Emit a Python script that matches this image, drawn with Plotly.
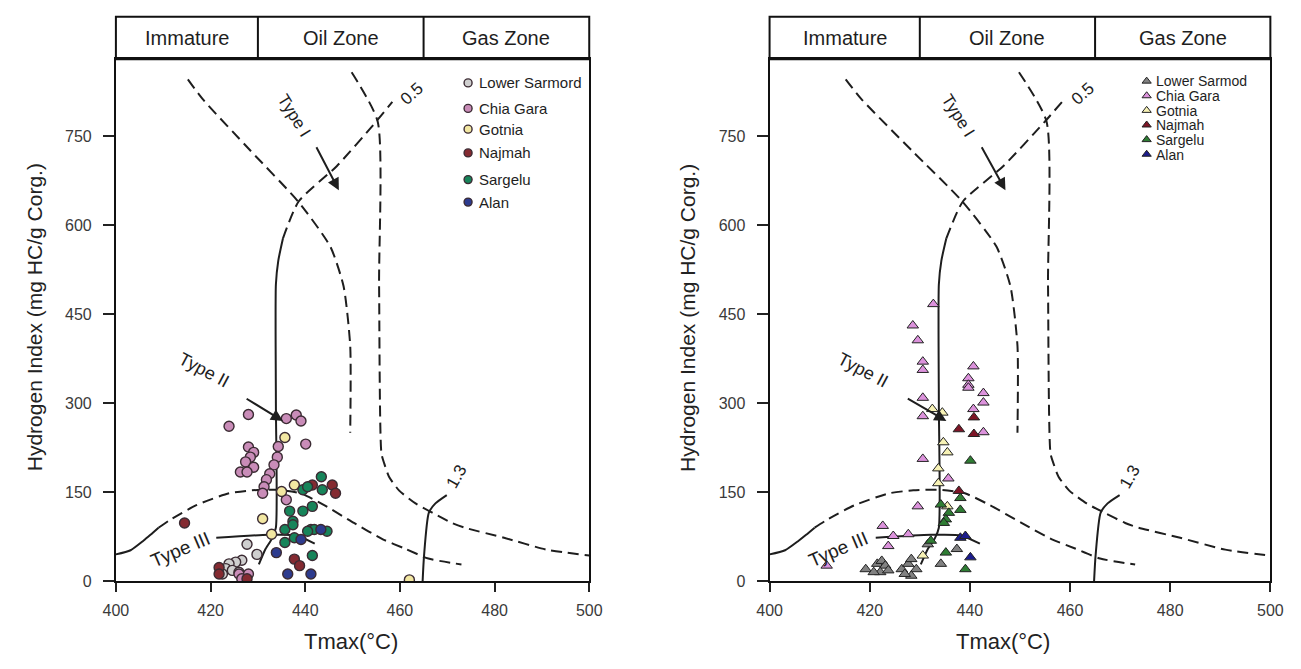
import plotly.graph_objects as go

# ---------------- data: left panel (circles) ----------------
L_lower_sarmord_x = [427.7, 429.8, 426.6, 425.3, 423.9, 423.2, 424.6, 426.0, 422.5]
L_lower_sarmord_y = [62, 45, 35, 32, 29, 21, 18, 15, 12]
L_chia_gara_x = [428.0, 423.9, 436.0, 438.1, 439.1, 440.1, 434.3, 434.1, 433.4, 432.5, 431.8,
                 431.3, 431.0, 428.0, 429.1, 428.4, 427.4, 429.1, 426.3, 427.7, 436.0, 426.0, 428.0, 426.6]
L_chia_gara_y = [281, 261, 274, 280, 270, 231, 227, 209, 196, 181, 171,
                 159, 148, 226, 217, 209, 201, 192, 184, 184, 137, 12, 12, 4]
L_gotnia_x = [435.7, 435.0, 437.7, 431.0, 432.9, 462.0]
L_gotnia_y = [242, 151, 162, 105, 79, 2]
L_najmah_x = [414.5, 441.5, 445.7, 446.4, 437.7, 438.8, 421.8, 421.8, 427.7]
L_najmah_y = [98, 162, 162, 148, 37, 26, 23, 12, 4]
L_sargelu_x = [443.4, 443.6, 439.5, 440.5, 436.7, 439.5, 441.5, 437.4, 435.7, 437.7, 435.7,
               441.2, 441.9, 444.6, 441.5, 437.4, 440.5]
L_sargelu_y = [176, 154, 154, 159, 118, 118, 126, 101, 87, 73, 65,
               87, 87, 84, 43, 95, 84]
L_alan_x = [443.3, 439.1, 433.9, 436.3, 441.2]
L_alan_y = [87, 70, 48, 12, 12]

# ---------------- data: right panel (triangles) ----------------
R_lower_sarmod_x = [437.4, 434.2, 431.6, 419.2, 421.5, 422.4, 423.1, 422.1, 423.7, 420.8,
                    426.4, 427.7, 428.3, 429.3, 428.3, 427.0]
R_lower_sarmod_y = [54, 29, 62, 20, 29, 34, 26, 15, 18, 15,
                    20, 29, 37, 20, 9, 12]
R_chia_gara_x = [432.7, 428.6, 429.6, 430.6, 430.6, 430.6, 430.6, 440.7, 439.7, 439.7, 439.7,
                 442.7, 442.7, 440.7, 442.7, 430.6, 435.7, 429.6, 422.6, 424.7, 427.7, 423.7, 411.4]
R_chia_gara_y = [467, 431, 406, 370, 356, 309, 278, 362, 342, 331, 326,
                 317, 301, 290, 251, 206, 173, 126, 93, 76, 79, 59, 26]
R_gotnia_x = [432.5, 434.5, 434.7, 435.5, 433.7, 433.7, 435.5, 430.6]
R_gotnia_y = [290, 284, 234, 217, 190, 165, 126, 43]
R_najmah_x = [440.8, 437.8, 440.8, 437.8]
R_najmah_y = [276, 256, 248, 152]
R_sargelu_x = [440.1, 438.1, 438.1, 434.2, 435.8, 435.2, 434.8, 432.2, 435.2, 439.1]
R_sargelu_y = [203, 140, 120, 129, 115, 104, 98, 68, 48, 20]
R_alan_x = [438.1, 439.1, 440.1]
R_alan_y = [73, 76, 40]

# ---------------- reference curves (Tmax, HI) ----------------
ro05_solid_x = [430.2, 431.6, 433.0, 433.8, 433.8, 433.8, 434.3, 435.3]
ro05_solid_y = [28, 54, 72, 90, 300, 500, 540, 578]
ro05_dash_x = [435.3, 438.6, 446.7, 455.0, 458.4]
ro05_dash_y = [578, 640, 700, 775, 808]
type2_x = [415.2, 418.3, 428.4, 438.5, 445.3, 448.1, 449.5, 449.5]
type2_y = [846, 813, 726, 640, 564, 497, 397, 250]
type1_x = [449.8, 455.3, 455.6, 456.1, 456.7, 457.7, 459.8, 463.3, 466.9, 471.0, 473.7, 482.0, 491.0, 500.0]
type1_y = [858, 775, 500, 215, 198, 176, 153, 131, 115, 98, 90, 73, 53, 43]
env_solid_x = [400.0, 403.1, 405.8, 407.3, 409.0]
env_solid_y = [45, 52, 68, 78, 90]
env_dash_x = [409.0, 411.4, 417.0, 423.9, 428.7, 434.0, 439.0, 444.0, 450.3, 456.5, 461.0, 466.0, 473.0]
env_dash_y = [90, 103, 128, 148, 153, 154, 148, 128, 98, 70, 55, 38, 28]
type3_x = [421.2, 432.2, 438.2, 442.0]
type3_y = [73, 78, 77, 63]
ro13_x = [464.8, 465.1, 466.1, 467.5, 469.9]
ro13_y = [0, 43, 115, 131, 145]

zone_names = ["Immature", "Oil Zone", "Gas Zone"]
zone_bounds = [400, 430, 465, 500]
x_ticks = [400, 420, 440, 460, 480, 500]
y_ticks = [0, 150, 300, 450, 600, 750]

FONT = "Liberation Sans, Arial, sans-serif"
INK = "#1e1e1e"

left_series = [
    ("Lower Sarmord", L_lower_sarmord_x, L_lower_sarmord_y, "#cfcfcf"),
    ("Chia Gara", L_chia_gara_x, L_chia_gara_y, "#c98cb8"),
    ("Gotnia", L_gotnia_x, L_gotnia_y, "#f2e7a2"),
    ("Najmah", L_najmah_x, L_najmah_y, "#842a31"),
    ("Sargelu", L_sargelu_x, L_sargelu_y, "#17845a"),
    ("Alan", L_alan_x, L_alan_y, "#2d3b8e"),
]
right_series = [
    ("Lower Sarmod", R_lower_sarmod_x, R_lower_sarmod_y, "#818181"),
    ("Chia Gara", R_chia_gara_x, R_chia_gara_y, "#dc92dc"),
    ("Gotnia", R_gotnia_x, R_gotnia_y, "#f7f2b5"),
    ("Najmah", R_najmah_x, R_najmah_y, "#7d1526"),
    ("Sargelu", R_sargelu_x, R_sargelu_y, "#2f7d34"),
    ("Alan", R_alan_x, R_alan_y, "#1b1b8c"),
]
left_legend_y = [840, 797, 762, 722, 677, 639]

PX_PER_HI = 529 / 880.0  # plot height in px / y-range

fig = go.Figure()

def add_curves(xa, ya):
    dash = "11px,6px"
    for xs, ys, d in [
        (ro05_solid_x, ro05_solid_y, "solid"),
        (ro05_dash_x, ro05_dash_y, dash),
        (type2_x, type2_y, dash),
        (type1_x, type1_y, dash),
        (env_solid_x, env_solid_y, "solid"),
        (env_dash_x, env_dash_y, dash),
        (type3_x, type3_y, "solid"),
        (ro13_x, ro13_y, "solid"),
    ]:
        fig.add_trace(go.Scatter(
            x=xs, y=ys, mode="lines", xaxis=xa, yaxis=ya, showlegend=False,
            hoverinfo="skip",
            line=dict(color=INK, width=2, dash=d, shape="spline", smoothing=0.6),
        ))

add_curves("x", "y")
add_curves("x2", "y2")

for name, xs, ys, col in left_series:
    fig.add_trace(go.Scatter(
        x=xs, y=ys, mode="markers", name=name, xaxis="x", yaxis="y", showlegend=False,
        marker=dict(symbol="circle", size=10, color=col, line=dict(color="#3b2b33", width=1.4)),
    ))
for name, xs, ys, col in right_series:
    fig.add_trace(go.Scatter(
        x=xs, y=ys, mode="markers", name=name, xaxis="x2", yaxis="y2", showlegend=False,
        marker=dict(symbol="triangle-up", size=10, color=col, line=dict(color="#222", width=1)),
    ))

# ---- custom legend, left panel ----
for (name, _, _, col), ly in zip(left_series, left_legend_y):
    fig.add_trace(go.Scatter(
        x=[474.4], y=[ly], mode="markers", xaxis="x", yaxis="y", showlegend=False, hoverinfo="skip",
        marker=dict(symbol="circle", size=8, color=col, line=dict(color="#3b2b33", width=1.4)),
    ))
    fig.add_annotation(x=476.2, y=ly, xref="x", yref="y", text=name, showarrow=False,
                       xanchor="left", yanchor="middle", font=dict(family=FONT, size=15, color=INK))

# ---- custom legend, right panel (one multi-line text block) ----
R_LEG_BASE = 11.4          # sets line spacing (1.3 em)
R_LEG_SHOWN = 14           # visible glyph size
line_hi = R_LEG_BASE * 1.3 / PX_PER_HI
r_top = 843
n = len(right_series)
for i, (name, _, _, col) in enumerate(right_series):
    fig.add_trace(go.Scatter(
        x=[475.3], y=[r_top - i * line_hi], mode="markers", xaxis="x2", yaxis="y2",
        showlegend=False, hoverinfo="skip",
        marker=dict(symbol="triangle-up", size=8, color=col, line=dict(color="#222", width=1)),
    ))
fig.add_annotation(x=477.0, y=r_top - (n - 1) / 2 * line_hi, xref="x2", yref="y2",
                   text="<br>".join(f"<span style='font-size:{R_LEG_SHOWN}px'>{s[0]}</span>"
                                    for s in right_series),
                   showarrow=False, align="left",
                   xanchor="left", yanchor="middle", borderpad=0,
                   font=dict(family=FONT, size=R_LEG_BASE, color=INK))

Y_BOT = 1 - 589 / 669
Y_TOP = 1 - 60 / 669
H_TOP = 1 - 17 / 669

axis_common = dict(showgrid=False, zeroline=False, showline=True, linecolor="#111", linewidth=2,
                   mirror=True, ticks="outside", tickcolor="#222", tickwidth=1.5,
                   tickfont=dict(family=FONT, size=16, color="#3a3a3a"))

fig.update_layout(
    width=1301, height=669, margin=dict(l=0, r=0, t=0, b=0),
    paper_bgcolor="white", plot_bgcolor="white", showlegend=False,
    xaxis=dict(domain=[105 / 1301, 588 / 1301], range=[400, 500], tickvals=x_ticks, anchor="y",
               ticklen=9, ticklabelstandoff=5, **axis_common),
    yaxis=dict(domain=[Y_BOT, Y_TOP], range=[0, 880], tickvals=y_ticks, anchor="x",
               ticklen=11, ticklabelstandoff=8, **axis_common),
    xaxis2=dict(domain=[772 / 1301, 1283 / 1301], range=[400, 500], tickvals=x_ticks, anchor="y2",
                ticklen=9, ticklabelstandoff=5, **axis_common),
    yaxis2=dict(domain=[Y_BOT, Y_TOP], range=[0, 880], tickvals=y_ticks, anchor="x2",
                ticklen=11, ticklabelstandoff=8, **axis_common),
)

for xa, ya in [("x", "y"), ("x2", "y2")]:
    # header box
    fig.add_shape(type="rect", xref=f"{xa} domain", yref="paper", x0=0, x1=1, y0=Y_TOP, y1=H_TOP,
                  line=dict(color="#111", width=2), fillcolor="rgba(0,0,0,0)")
    for b in zone_bounds[1:-1]:
        fig.add_shape(type="line", xref=xa, yref="paper", x0=b, x1=b, y0=Y_TOP, y1=H_TOP,
                      line=dict(color="#111", width=2))
    for i, zn in enumerate(zone_names):
        cx = (zone_bounds[i] + zone_bounds[i + 1]) / 2
        fig.add_annotation(x=cx, y=(Y_TOP + H_TOP) / 2, xref=xa, yref="paper", text=zn,
                           showarrow=False, xanchor="center", yanchor="middle",
                           font=dict(family=FONT, size=20, color=INK))
    # curve labels
    labels = [
        ("Type I", 437.6, 785, 58, 17),
        ("Type II", 418.6, 356, 28, 18),
        ("Type III", 413.6, 54, -23, 19),
        ("0.5", 462.6, 822, -42, 17),
        ("1.3", 472.0, 176, -60, 17),
    ]
    for t, lx, ly, ang, fs in labels:
        fig.add_annotation(x=lx, y=ly, xref=xa, yref=ya, text=t, showarrow=False, textangle=ang,
                           xanchor="center", yanchor="middle",
                           font=dict(family=FONT, size=fs, color=INK))
    # arrows
    for hx, hy, tx, ty in [(447.1, 659, 442.2, 734), (435.3, 270, 427.3, 309)]:
        fig.add_annotation(x=hx, y=hy, ax=tx, ay=ty, xref=xa, yref=ya, axref=xa, ayref=ya,
                           text="", showarrow=True, arrowhead=2, arrowsize=1.2, arrowwidth=2,
                           arrowcolor=INK)

# axis titles
for cx in [22 / 1301, 688 / 1301]:
    fig.add_annotation(x=cx, y=1 - 322 / 669, xref="paper", yref="paper",
                       text="Hydrogen Index (mg HC/g Corg.)", textangle=-90, showarrow=False,
                       xanchor="center", yanchor="middle",
                       font=dict(family=FONT, size=21, color="#222"))
for cx in [345 / 1301, 1010 / 1301]:
    fig.add_annotation(x=cx, y=1 - 650 / 669, xref="paper", yref="paper",
                       text="Tmax(°C)", showarrow=False, xanchor="center", yanchor="middle",
                       font=dict(family=FONT, size=22, color="#222"))

fig.write_html("out.html")
